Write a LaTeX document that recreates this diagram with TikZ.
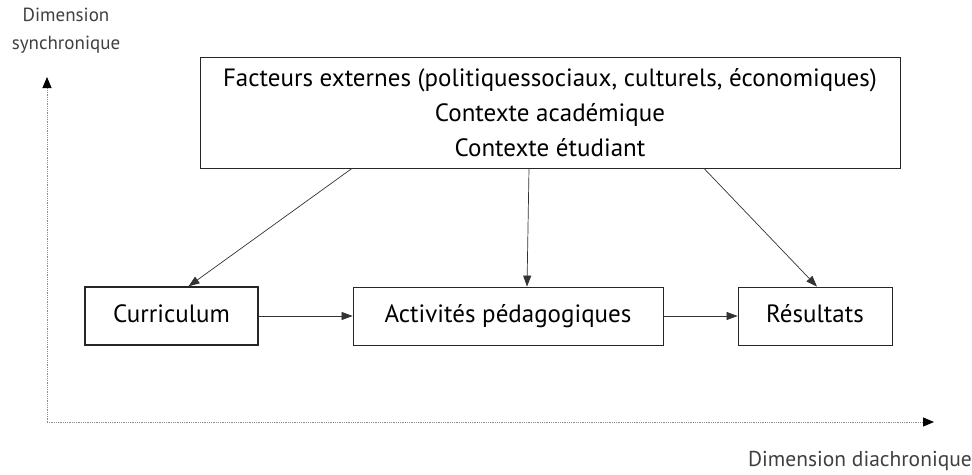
\documentclass[tikz,border=0pt]{standalone}
\usepackage{fontspec}
\setmainfont{PT Sans}
\usetikzlibrary{arrows.meta}

\begin{document}
\begin{tikzpicture}[x=1pt,y=-1pt,>={Triangle[length=11pt,width=8pt]}]
	\tikzstyle{every node}=[draw=black!85, line width=0.8pt, font=\fontsize{25}{35}\selectfont, inner sep=0pt, minimum height=58pt, text height=17pt, text depth=5pt]
	\tikzstyle{axe}=[draw=black!45, densely dotted, line width=0.8pt]
	\tikzstyle{lien}=[draw=black!80, line width=0.7pt]
	\tikzstyle{titre}=[draw=none, text=black!75, minimum height=0pt, text height=, text depth=]
	
	\useasboundingbox (0,0) rectangle (972,474);
	
	\node[align=center, minimum width=700pt, minimum height=111pt, text height=, text depth=] at (550,112.5) (facteurs)
		{Facteurs externes (politiquessociaux, culturels, économiques)\\
		 Contexte académique\\
		 Contexte étudiant};
	
	\node[minimum width=173pt, line width=1.3pt] at (171.5,316) (curriculum) {Curriculum};
	\node[minimum width=310pt] at (508,316) (activites) {Activités pédagogiques};
	\node[minimum width=154pt] at (815,316) (resultats) {Résultats};
	
	% axes
	\coordinate (o) at (47,422);
	\coordinate (synchro) at (47,77);
	\coordinate (diachro) at (934,422);
	\draw[axe, -{Triangle[length=11pt,width=9pt,color=black]}] (o) -- (synchro);
	\draw[axe, -{Triangle[length=11pt,width=9pt,color=black]}] (o) -- (diachro);
	
	\node[titre, align=center, font=\fontsize{19}{28}\selectfont] at (66,31) (dimsync) {Dimension\\synchronique};
	\node[titre, font=\fontsize{21.5}{24}\selectfont] at (860,461) (dimdia) {Dimension diachronique};
	
	% liens
	\draw[lien, ->] ([xshift=-198pt]facteurs.south) -- ([xshift=17pt]curriculum.north);
	\draw[lien, ->] ([xshift=-21pt]facteurs.south) -- ([xshift=19pt]activites.north);
	\draw[lien, ->] ([xshift=154pt]facteurs.south) -- ([xshift=2pt]resultats.north);
	\draw[lien, ->] (curriculum.east) -- (activites.west);
	\draw[lien, ->] (activites.east) -- (resultats.west);
	
\end{tikzpicture}
\end{document}
